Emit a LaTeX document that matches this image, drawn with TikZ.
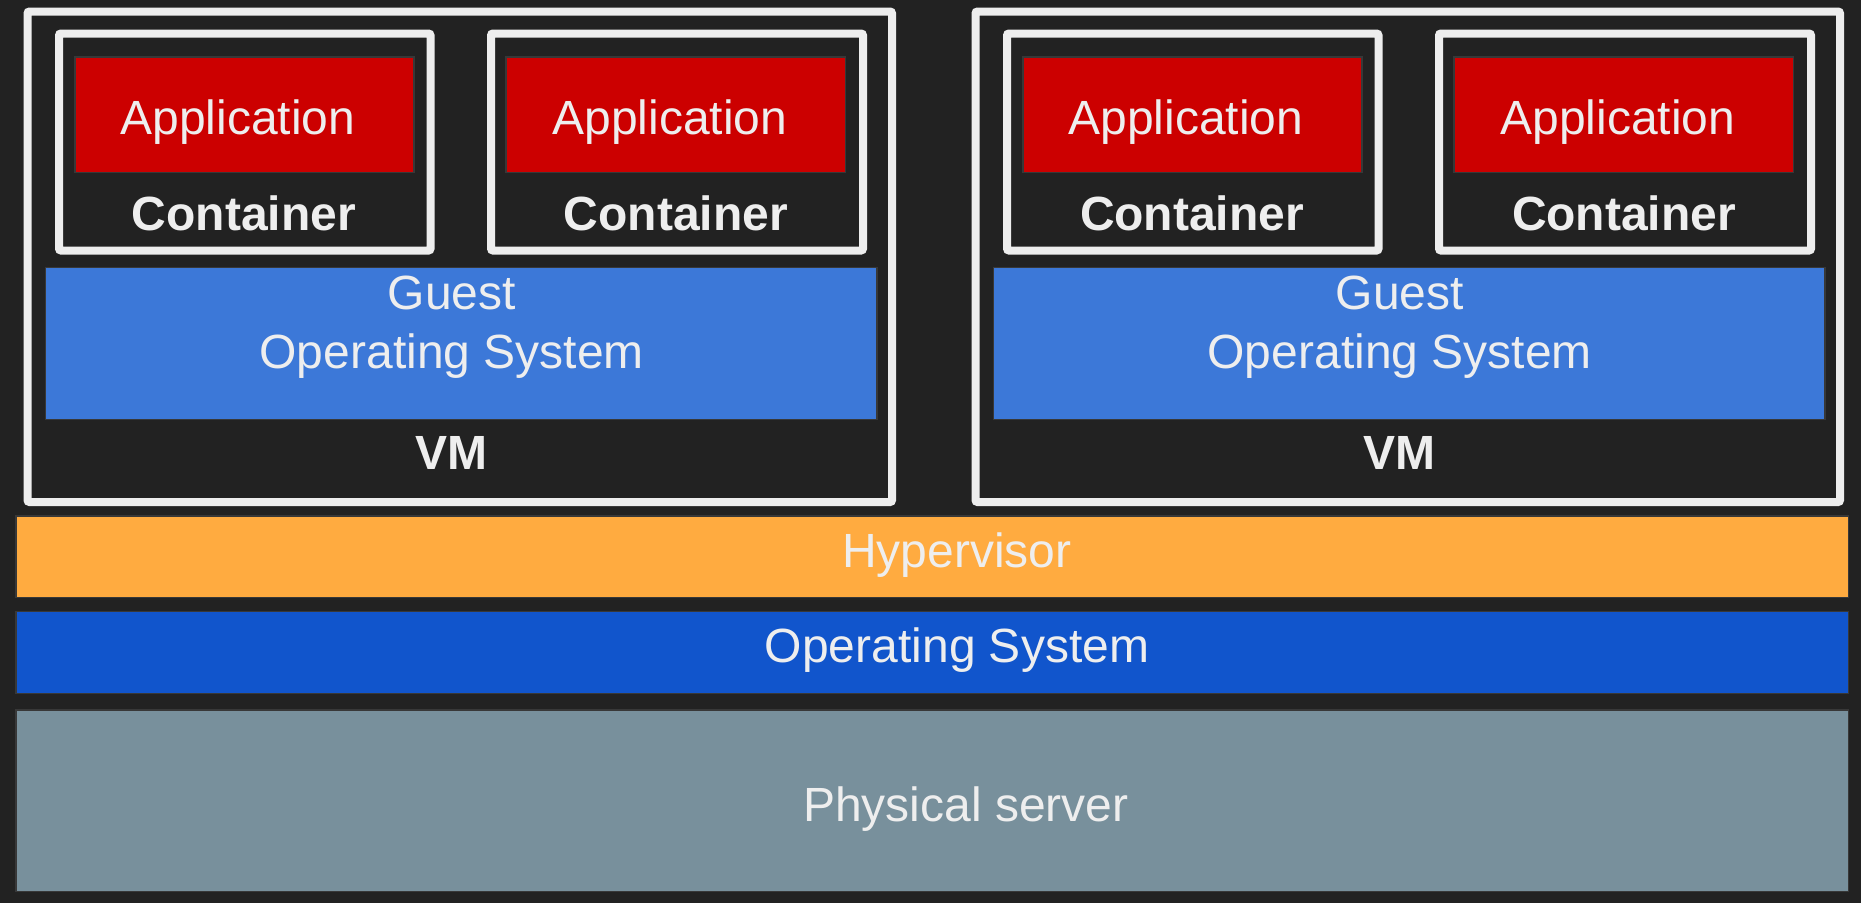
\documentclass[tikz,border=0pt]{standalone}
\usepackage{fontspec}
\setmainfont{Liberation Sans}

\definecolor{bgdark}{HTML}{222222}
\definecolor{framewhite}{HTML}{EEEEEE}
\definecolor{edgedark}{HTML}{383838}
\definecolor{appred}{HTML}{CC0000}
\definecolor{guestblue}{HTML}{3C78D8}
\definecolor{hyporange}{HTML}{FFAB40}
\definecolor{osblue}{HTML}{1155CC}
\definecolor{hwgrey}{HTML}{78909C}

\begin{document}
\begin{tikzpicture}[
    x=1pt, y=-1pt,
    font=\fontsize{48}{59}\selectfont,
    frame/.style={draw=framewhite, line width=8pt, rounded corners=2pt},
    layer/.style={draw=edgedark, line width=1.5pt},
    label/.style={text=framewhite, inner sep=0pt, anchor=base}
]
    % Background
    \fill[bgdark] (0, 0) rectangle (1861, 903);

    % Left VM
    \draw[frame] (27.5, 11.5) rectangle (892, 502);
    \draw[frame] (59, 33.5) rectangle (430.5, 250.5);
    \draw[frame] (491, 33.5) rectangle (863, 250.5);
    \draw[layer, fill=appred] (75, 57) rectangle (414, 172.5);
    \draw[layer, fill=appred] (506, 57) rectangle (845.5, 172.5);
    \draw[layer, fill=guestblue] (45.5, 267.5) rectangle (877, 419.5);
    \node[label] (appA) at (237.8, 134.3) {Application};
    \node[label] (appB) at (669.8, 134.3) {Application};
    \node[label, font=\fontsize{48}{59}\selectfont\bfseries] (ctrA) at (244, 230) {Container};
    \node[label, font=\fontsize{48}{59}\selectfont\bfseries] (ctrB) at (676, 230) {Container};
    \node[label] (guestA) at (451.7, 309.3) {Guest};
    \node[label] (guestosA) at (451.7, 368.3) {Operating System};
    \node[label, font=\fontsize{48}{59}\selectfont\bfseries] (vmA) at (451, 469) {VM};

    % Right VM
    \draw[frame] (975.5, 11.5) rectangle (1840, 502);
    \draw[frame] (1007, 33.5) rectangle (1378.5, 250.5);
    \draw[frame] (1439, 33.5) rectangle (1811, 250.5);
    \draw[layer, fill=appred] (1023, 57) rectangle (1362, 172.5);
    \draw[layer, fill=appred] (1454, 57) rectangle (1793.5, 172.5);
    \draw[layer, fill=guestblue] (993.5, 267.5) rectangle (1825, 419.5);
    \node[label] (appC) at (1185.8, 134.3) {Application};
    \node[label] (appD) at (1617.8, 134.3) {Application};
    \node[label, font=\fontsize{48}{59}\selectfont\bfseries] (ctrC) at (1192, 230) {Container};
    \node[label, font=\fontsize{48}{59}\selectfont\bfseries] (ctrD) at (1624, 230) {Container};
    \node[label] (guestB) at (1399.7, 309.3) {Guest};
    \node[label] (guestosB) at (1399.7, 368.3) {Operating System};
    \node[label, font=\fontsize{48}{59}\selectfont\bfseries] (vmB) at (1399, 469) {VM};

    % Host layers
    \draw[layer, fill=hyporange] (15.75, 515.75) rectangle (1848.5, 597.5);
    \draw[layer, fill=osblue] (15.75, 611.5) rectangle (1848.5, 693.25);
    \draw[layer, fill=hwgrey] (15.75, 709.75) rectangle (1848.5, 891.25);
    \node[label] (hyper) at (957, 567.3) {Hypervisor};
    \node[label] (hostos) at (957, 662.3) {Operating System};
    \node[label] (server) at (966, 821.7) {Physical server};
\end{tikzpicture}
\end{document}
